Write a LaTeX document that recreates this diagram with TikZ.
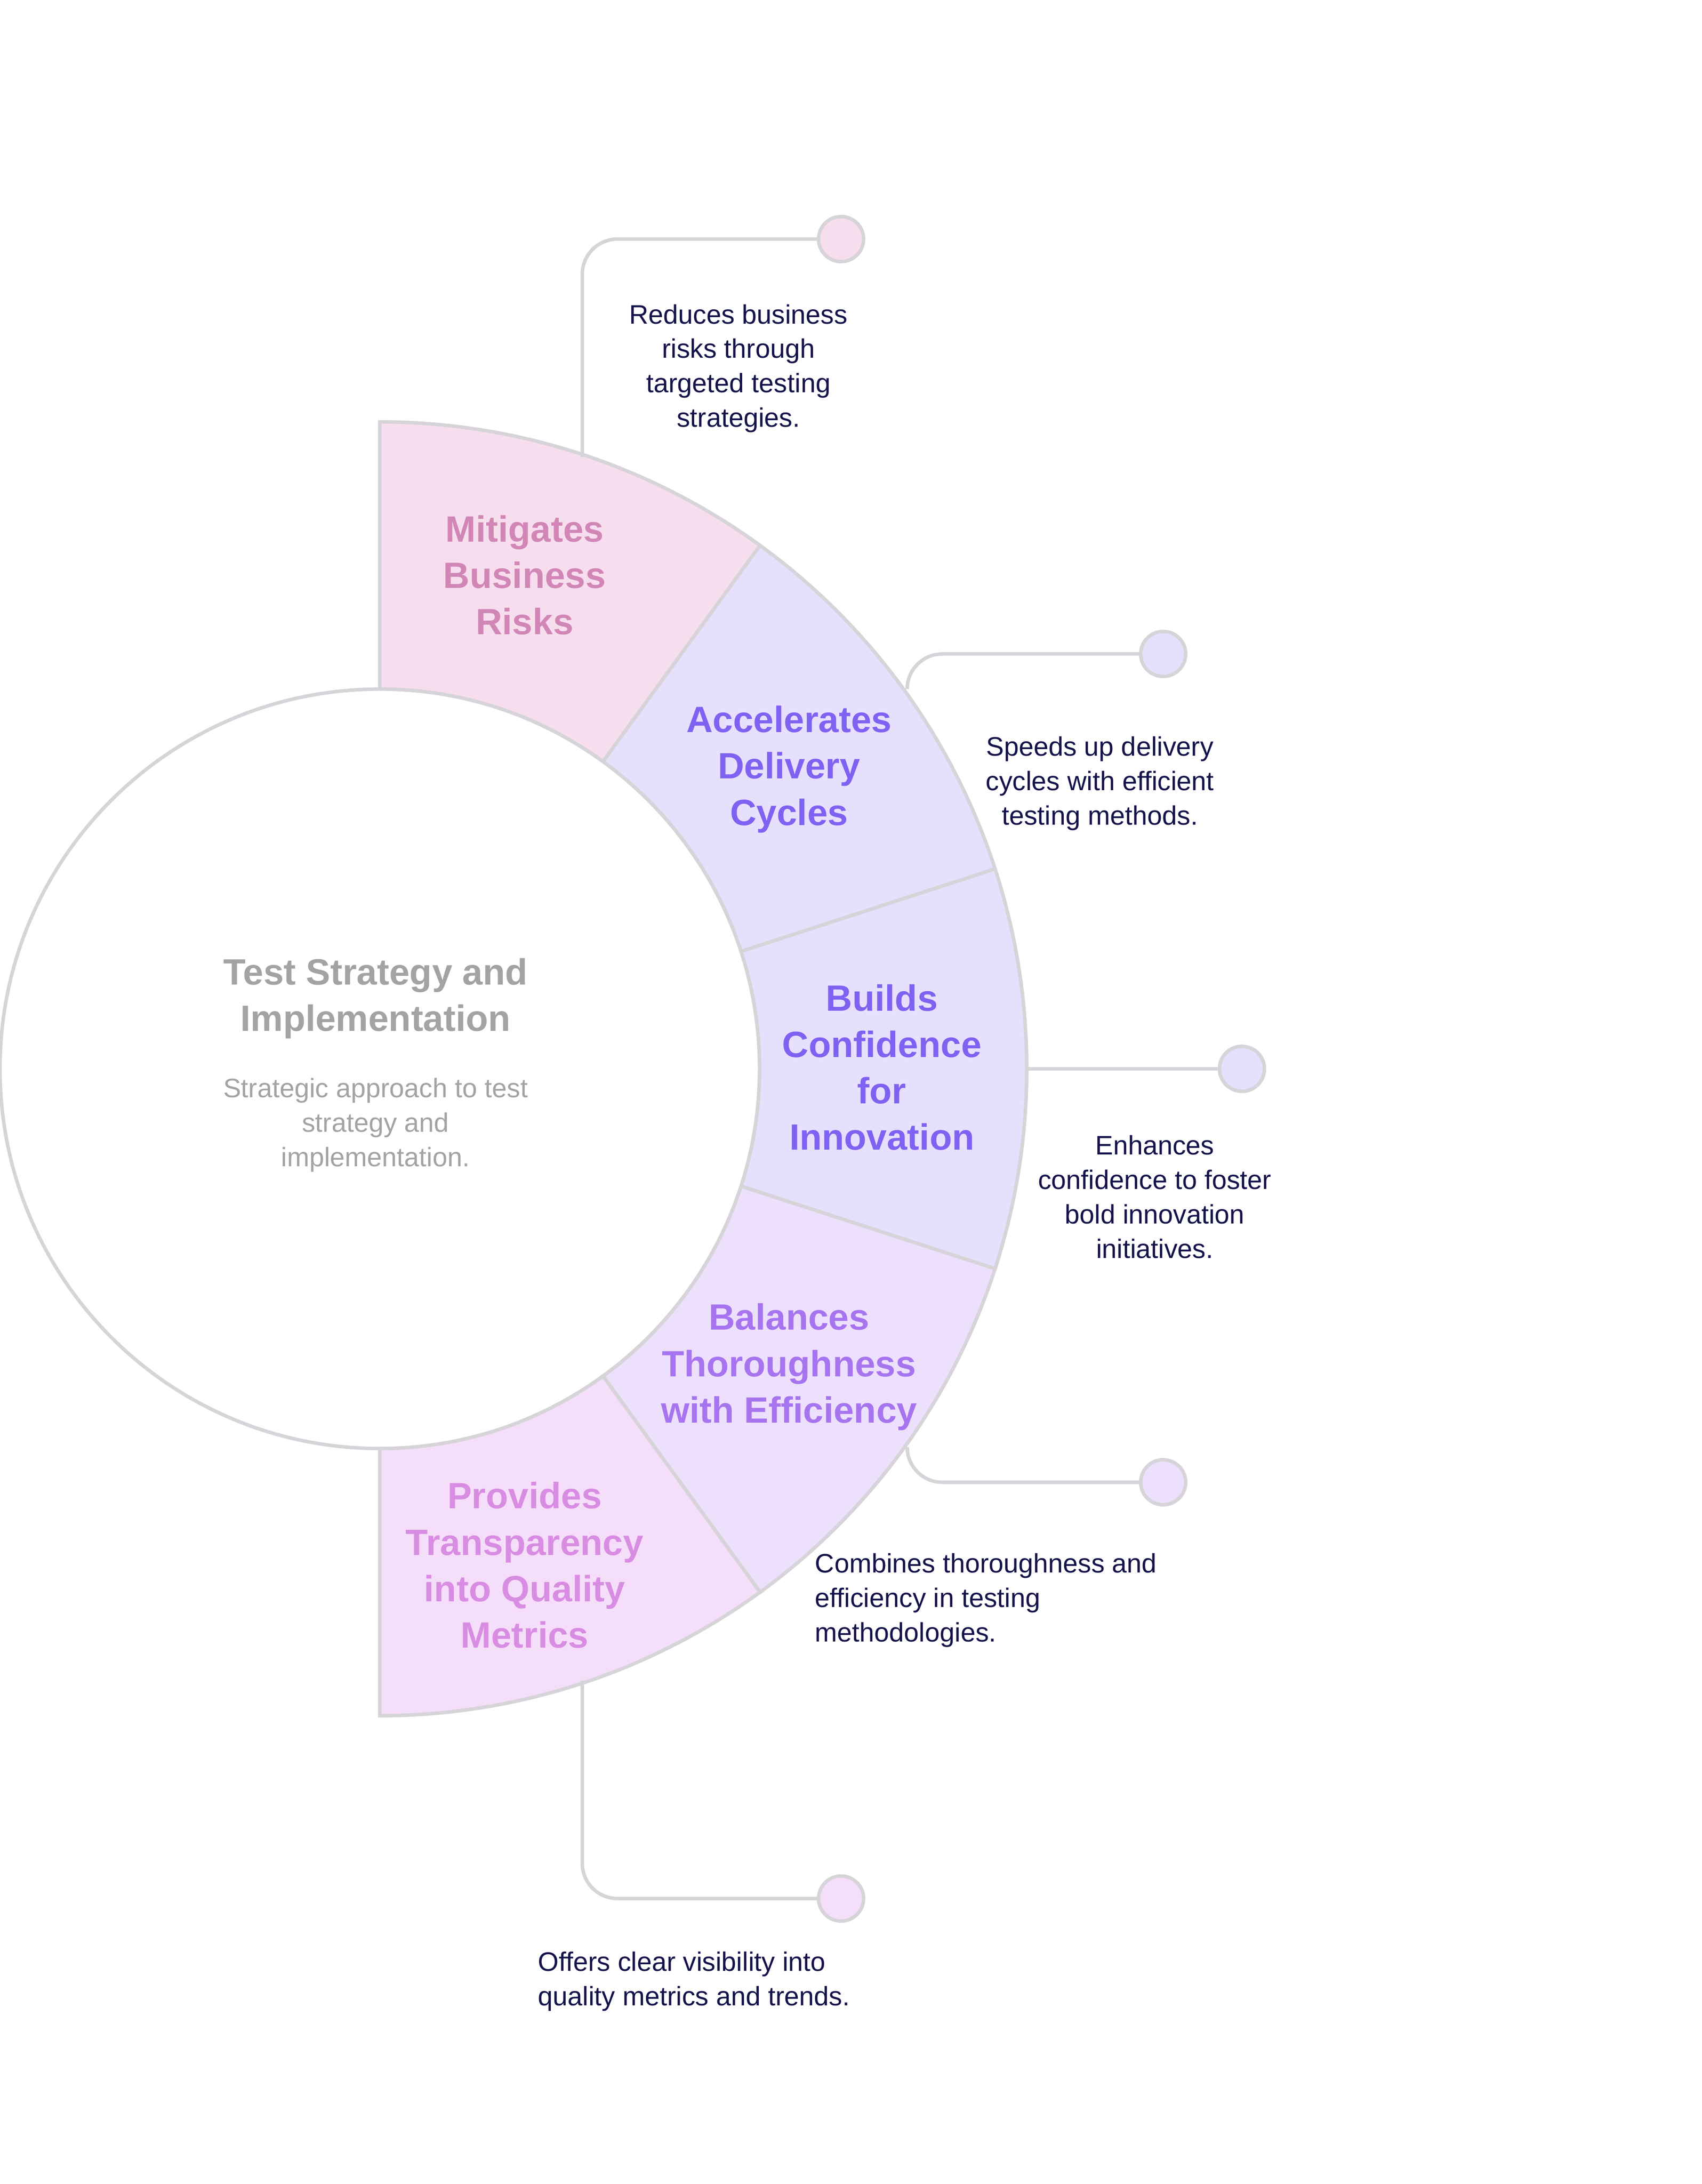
\documentclass[tikz,border=0pt]{standalone}
\usepackage{fontspec}
\setmainfont{Liberation Sans}
\begin{document}
\begin{tikzpicture}[x=1pt,y=1pt]
\definecolor{edge}{HTML}{D6D4D8}
\definecolor{fA}{HTML}{F7DEEE}\definecolor{tA}{HTML}{D186B6}
\definecolor{fB}{HTML}{E6E0FD}\definecolor{tB}{HTML}{7E62F2}
\definecolor{fD}{HTML}{EDE0FC}\definecolor{tD}{HTML}{A774F0}
\definecolor{fE}{HTML}{F5DEF9}\definecolor{tE}{HTML}{D88DE2}
\definecolor{desc}{HTML}{14124A}
\definecolor{ttl}{HTML}{A3A3A3}
\tikzset{seg/.style={draw=edge,line width=2.5pt},
 lab/.style={font=\fontsize{26}{33}\selectfont\bfseries,align=center},
 dsc/.style={font=\fontsize{19}{24.5}\selectfont,text=desc,align=center},
 conn/.style={draw=edge,line width=2.5pt,rounded corners=25pt},
 dot/.style={circle,draw=edge,line width=2.5pt,minimum size=32pt,inner sep=0pt}}
\useasboundingbox (0,0) rectangle (1210,-1553);
\coordinate (c) at (270,-760);
\foreach \a/\b/\f in {90/54/fA,54/18/fB,18/-18/fB,-18/-54/fD,-54/-90/fE}{
 \draw[seg,fill=\f] ([shift={(\a:460pt)}]c) arc[start angle=\a,end angle=\b,radius=460pt]
  -- ([shift={(\b:270pt)}]c) arc[start angle=\b,end angle=\a,radius=270pt] -- cycle;}
\draw[seg,fill=white] (c) circle[radius=270pt];
\node[lab,text=ttl] (title) at (267,-710) {Test Strategy and\\Implementation};
\node[dsc,text=ttl] (sub) at (267,-800) {Strategic approach to test\\strategy and\\implementation.};
\node[lab,text=tA] (l1) at (373,-409) {Mitigates\\Business\\Risks};
\node[lab,text=tB] (l2) at (561,-547) {Accelerates\\Delivery\\Cycles};
\node[lab,text=tB] (l3) at (627,-759) {Builds\\Confidence\\for\\Innovation};
\node[lab,text=tD] (l4) at (561,-972) {Balances\\Thoroughness\\with Efficiency};
\node[lab,text=tE] (l5) at (373,-1113) {Provides\\Transparency\\into Quality\\Metrics};
\node[dot,fill=fA] (d1) at (598,-170) {};
\node[dot,fill=fB] (d2) at (827,-465) {};
\node[dot,fill=fB] (d3) at (883,-760) {};
\node[dot,fill=fD] (d4) at (827,-1054) {};
\node[dot,fill=fE] (d5) at (598,-1350) {};
\coordinate (s1) at (414,-325);\coordinate (s2) at (645,-490);
\coordinate (s3) at (730,-760);\coordinate (s4) at (645,-1030);
\coordinate (s5) at (414,-1195);
\draw[conn] (s1) -- (414,-170) -- (d1.west);
\draw[conn] (s2) -- (645,-465) -- (d2.west);
\draw[conn] (s3) -- (d3.west);
\draw[conn] (s4) -- (645,-1054) -- (d4.west);
\draw[conn] (s5) -- (414,-1350) -- (d5.west);
\node[dsc] (t1) at (525,-262) {Reduces business\\risks through\\targeted testing\\strategies.};
\node[dsc] (t2) at (782,-557) {Speeds up delivery\\cycles with efficient\\testing methods.};
\node[dsc] (t3) at (821,-851) {Enhances\\confidence to foster\\bold innovation\\initiatives.};
\node[dsc,align=left,anchor=west] (t4) at (576,-1138) {Combines thoroughness and\\efficiency in testing\\methodologies.};
\node[dsc,align=left,anchor=west] (t5) at (379,-1409) {Offers clear visibility into\\quality metrics and trends.};
\end{tikzpicture}
\end{document}
